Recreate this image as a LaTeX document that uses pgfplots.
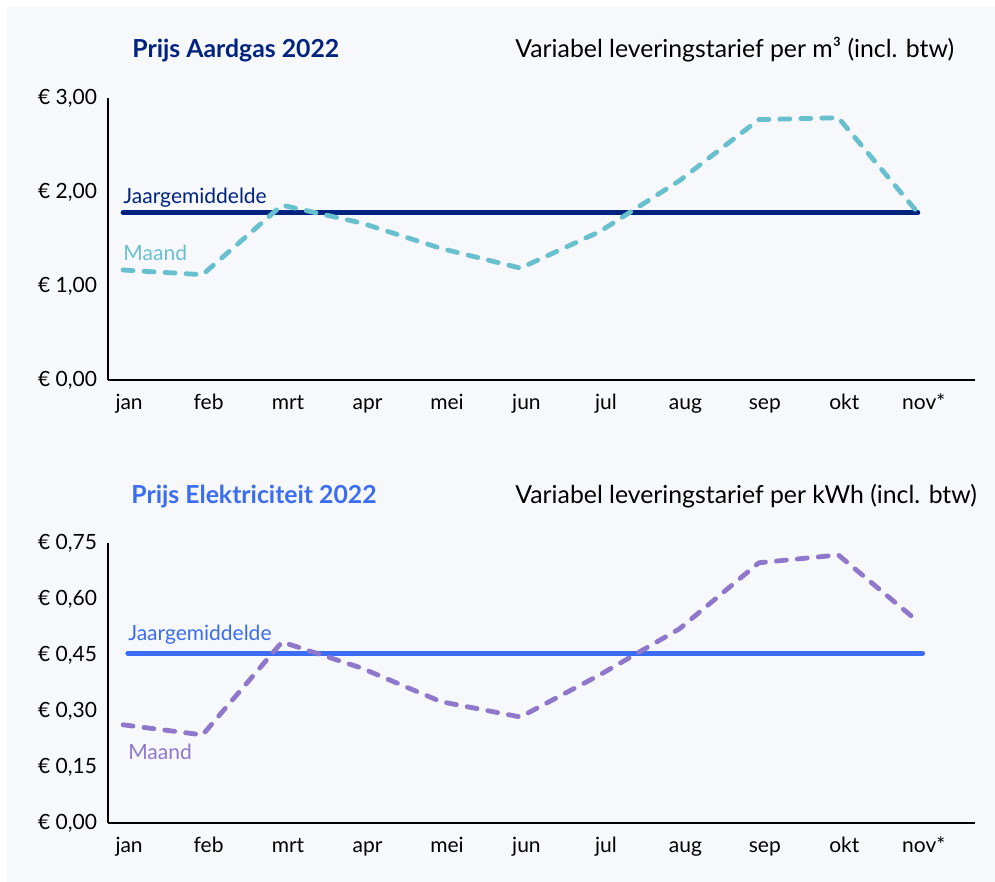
\documentclass[border=0pt]{standalone}
\usepackage{pgfplots}
\pgfplotsset{compat=1.18}
\usepackage{fontspec}
\setmainfont{Lato}

\definecolor{bgc}{HTML}{F7F8FC}
\definecolor{gasavg}{HTML}{00237F}
\definecolor{gasmonth}{HTML}{68C0CE}
\definecolor{elecavg}{HTML}{3B6DF4}
\definecolor{elecmonth}{HTML}{8F78CC}

\pgfplotsset{
  panel/.style={
    scale only axis,
    width=433.5pt,
    anchor=south west,
    axis lines=left,
    axis line style={-, line width=1.2pt, black},
    major tick length=0pt,
    xmin=-0.19, xmax=10.72,
    xtick={0,...,10},
    xticklabels={jan,feb,mrt,apr,mei,jun,jul,aug,sep,okt,nov*},
    tick label style={font=\fontsize{10.5}{12}\selectfont, black},
    xticklabel style={anchor=base, yshift=-15pt, xshift=3pt},
    yticklabel style={xshift=-2pt},
    clip=false,
  },
  monthline/.style={line width=2.4pt, line cap=round, line join=round,
    dash pattern=on 5pt off 5.5pt},
  avgline/.style={line width=2.5pt, line cap=round},
}

\begin{document}
\begin{tikzpicture}
\path[use as bounding box] (0,0) rectangle (497.5pt,441pt);
\fill[white] (0,0) rectangle (497.5pt,441pt);
\fill[bgc] (3.5pt,0) rectangle (497.5pt,437.5pt);

% titels
\node[anchor=base west, inner sep=0, text=gasavg, font=\fontsize{12.4}{14}\selectfont\bfseries]
  at (66pt,412pt) {Prijs Aardgas 2022};
\node[anchor=base west, inner sep=0, font=\fontsize{12.4}{14}\selectfont]
  at (257.5pt,412pt) {Variabel leveringstarief per m³ (incl. btw)};
\node[anchor=base west, inner sep=0, text=elecavg, font=\fontsize{12.4}{14}\selectfont\bfseries]
  at (65.5pt,189pt) {Prijs Elektriciteit 2022};
\node[anchor=base west, inner sep=0, font=\fontsize{12.4}{14}\selectfont]
  at (257.5pt,189pt) {Variabel leveringstarief per kWh (incl. btw)};

% aardgas
\begin{axis}[panel, at={(54pt,251pt)}, height=141pt,
  ymin=0, ymax=3,
  ytick={0,1,2,3},
  yticklabels={{€ 0,00},{€ 1,00},{€ 2,00},{€ 3,00}},
]
\addplot[avgline, gasavg] coordinates {(0,1.78) (10,1.78)};
\addplot[monthline, gasmonth] coordinates {
  (0,1.17) (1,1.12) (2,1.86) (3,1.67) (4,1.40) (5,1.19)
  (6,1.58) (7,2.12) (8,2.77) (9,2.79) (10,1.78)
};
\node[anchor=base west, inner sep=0, text=gasavg, font=\fontsize{10.5}{12}\selectfont]
  at (axis cs:0,1.78) [yshift=4.5pt] {Jaargemiddelde};
\node[anchor=base west, inner sep=0, text=gasmonth, font=\fontsize{10.5}{12}\selectfont]
  at (axis cs:0,1.27) {Maand};
\end{axis}

% elektriciteit
\begin{axis}[panel, at={(54pt,29.5pt)}, height=140pt,
  ymin=0, ymax=0.75,
  ytick={0,0.15,0.30,0.45,0.60,0.75},
  yticklabels={{€ 0,00},{€ 0,15},{€ 0,30},{€ 0,45},{€ 0,60},{€ 0,75}},
]
\addplot[avgline, elecavg] coordinates {(0.06,0.455) (10.06,0.455)};
\addplot[monthline, elecmonth] coordinates {
  (0,0.263) (1,0.236) (2,0.485) (3,0.415) (4,0.325) (5,0.284)
  (6,0.397) (7,0.52) (8,0.697) (9,0.718) (10,0.54)
};
\node[anchor=base west, inner sep=0, text=elecavg, font=\fontsize{10.5}{12}\selectfont]
  at (axis cs:0.06,0.49) {Jaargemiddelde};
\node[anchor=base west, inner sep=0, text=elecmonth, font=\fontsize{10.5}{12}\selectfont]
  at (axis cs:0.06,0.169) {Maand};
\end{axis}
\end{tikzpicture}
\end{document}
